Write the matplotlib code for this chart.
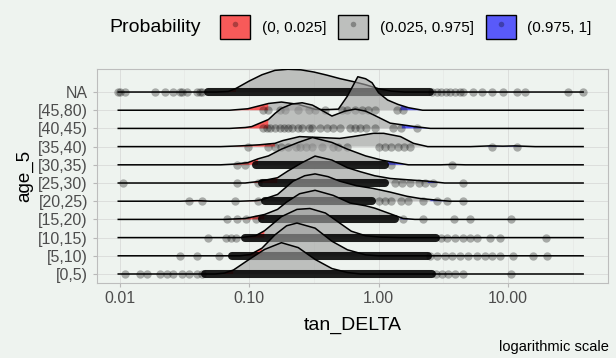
import matplotlib
matplotlib.use('Agg')
import matplotlib.pyplot as plt
import numpy as np
from matplotlib.patches import Patch
from matplotlib.lines import Line2D
from matplotlib.legend_handler import HandlerTuple
from matplotlib.ticker import FixedLocator, NullFormatter

plt.rcParams['font.family'] = ['Liberation Sans', 'DejaVu Sans']

# groups from bottom to top
groups = ['[0,5)', '[5,10)', '[10,15)', '[15,20)', '[20,25)', '[25,30)',
          '[30,35)', '[35,40)', '[40,45)', '[45,80)', 'NA']

# density ridges, x in log10(tan_DELTA), height in row units
curve_x = {
    'NA':      [-1.25, -1.16, -1.1, -1.0, -0.9, -0.8, -0.7, -0.6, -0.5, -0.4, -0.3, -0.2, -0.1, 0.0, 0.1, 0.2],
    '[45,80)': [-1.15, -1.01, -0.85, -0.75, -0.62, -0.49, -0.41, -0.31, -0.24, -0.16, -0.10, -0.05, 0.00, 0.07, 0.15, 0.23, 0.34],
    '[40,45)': [-1.15, -1.03, -0.98, -0.85, -0.80, -0.75, -0.67, -0.59, -0.51, -0.44, -0.36, -0.26, -0.18, -0.10, -0.04, 0.09, 0.18, 0.28, 0.40],
    '[35,40)': [-1.22, -1.07, -0.92, -0.80, -0.74, -0.61, -0.45, -0.30, -0.20, -0.04, 0.04, 0.17, 0.27, 0.38, 0.71, 0.86, 0.96, 1.05, 1.21],
    '[30,35)': [-1.22, -1.11, -1.01, -0.93, -0.85, -0.75, -0.62, -0.51, -0.36, -0.24, -0.10, 0.03, 0.13, 0.23, 0.48, 0.57, 0.67],
    '[25,30)': [-1.03, -0.93, -0.78, -0.70, -0.59, -0.49, -0.36, -0.24, -0.14, -0.03, 0.09, 0.22, 0.38, 0.51],
    '[20,25)': [-1.53, -1.40, -1.30, -1.07, -0.95, -0.90, -0.78, -0.66, -0.57, -0.49, -0.39, -0.30, -0.17, -0.04, 0.09, 0.22, 0.32, 0.42, 0.55],
    '[15,20)': [-1.19, -1.03, -0.88, -0.78, -0.71, -0.61, -0.49, -0.35, -0.22, -0.10, -0.03, 0.09, 0.19, 0.28],
    '[10,15)': [-1.07, -0.95, -0.88, -0.75, -0.63, -0.53, -0.41, -0.30, -0.21, -0.10, 0.01, 0.17],
    '[5,10)':  [-1.07, -0.99, -0.90, -0.80, -0.71, -0.63, -0.49, -0.36, -0.24, -0.10, 0.00],
    '[0,5)':   [-1.26, -1.19, -1.12, -1.01, -0.88, -0.75, -0.62, -0.49, -0.36, -0.24, -0.14],
}
curve_h = {
    'NA':      [0, 0.03, 0.2, 0.6, 0.95, 1.19, 1.25, 1.22, 1.1, 0.93, 0.74, 0.58, 0.4, 0.18, 0.05, 0],
    '[45,80)': [0, 0.08, 0.37, 0.45, 0.32, 0.05, 0.03, 0.06, 0.78, 1.84, 1.73, 1.51, 0.96, 0.56, 0.32, 0.14, 0],
    '[40,45)': [0, 0.05, 0.1, 0.49, 0.82, 1.1, 1.34, 1.41, 1.28, 1.0, 0.68, 0.95, 1.06, 0.95, 0.75, 0.29, 0.2, 0.1, 0],
    '[35,40)': [0, 0.04, 0.1, 0.18, 0.33, 0.55, 0.5, 0.45, 0.55, 0.73, 0.73, 0.55, 0.18, 0, 0, 0.04, 0.025, 0.04, 0],
    '[30,35)': [0, 0.04, 0.12, 0.33, 0.49, 0.86, 1.23, 1.5, 1.23, 0.86, 0.49, 0.25, 0.12, 0, 0, 0.02, 0],
    '[25,30)': [0, 0.08, 0.29, 0.66, 1.12, 1.48, 1.26, 0.84, 0.62, 0.4, 0.25, 0.18, 0.1, 0],
    '[20,25)': [0, 0.03, 0, 0, 0.03, 0.08, 0.37, 1.1, 1.4, 1.5, 1.35, 1.1, 0.85, 0.7, 0.5, 0.27, 0.15, 0.08, 0],
    '[15,20)': [0, 0.05, 0.27, 0.55, 0.95, 1.41, 1.6, 1.32, 0.9, 0.75, 0.62, 0.31, 0.05, 0],
    '[10,15)': [0, 0.1, 0.38, 1.15, 1.55, 1.6, 1.35, 0.8, 0.35, 0.1, 0.03, 0],
    '[5,10)':  [0, 0.07, 0.42, 1.15, 1.65, 1.8, 1.52, 0.8, 0.33, 0.05, 0],
    '[0,5)':   [0, 0.05, 0.22, 0.75, 1.35, 1.72, 1.45, 0.8, 0.3, 0.08, 0],
}

# 2.5 % and 97.5 % quantiles, log10(tan_DELTA)
q_low = {'NA': -1.10, '[45,80)': -0.85, '[40,45)': -0.85, '[35,40)': -0.80, '[30,35)': -0.93,
         '[25,30)': -0.78, '[20,25)': -0.92, '[15,20)': -0.88, '[10,15)': -0.88,
         '[5,10)': -0.90, '[0,5)': -1.12}
q_high = {'NA': 0.45, '[45,80)': 0.17, '[40,45)': 0.18, '[35,40)': 0.84, '[30,35)': 0.07,
          '[25,30)': 0.38, '[20,25)': 0.40, '[15,20)': 0.17, '[10,15)': 0.15,
          '[5,10)': -0.08, '[0,5)': -0.20}

# single observations, log10(tan_DELTA)
points = {
    'NA':      [-2.01, -2.00, -1.96, -1.73, -1.65, -1.59, -1.53, -1.52, -1.48, -1.40, -1.38, -1.36,
                0.41, 0.45, 0.48, 0.52, 0.55, 0.59, 0.63, 0.65, 0.73, 0.80, 0.88, 0.96, 1.07, 1.13, 1.46, 1.58],
    '[45,80)': [-0.89, -0.85, -0.76, -0.72, -0.62, -0.54, -0.49, -0.41, -0.28, -0.24, -0.18, -0.13,
                -0.08, -0.03, 0.14, 0.19],
    '[40,45)': [-0.89, -0.86, -0.84, -0.80, -0.76, -0.73, -0.70, -0.67, -0.62, -0.59, -0.54, -0.51,
                -0.45, -0.40, -0.35, -0.30, -0.22, -0.18, -0.14, -0.10, -0.03, 0.11, 0.17, 0.30],
    '[35,40)': [-1.01, -0.85, -0.80, -0.75, -0.70, -0.64, -0.61, -0.56, -0.51, -0.44, -0.35, -0.31,
                -0.24, 0.00, 0.05, 0.10, 0.15, 0.20, 0.24, 0.88, 1.07],
    '[30,35)': [-1.09, -1.03, 0.10, 0.57],
    '[25,30)': [-1.97, -1.09, -0.93, 0.13, 0.18, 0.24, 0.31, 0.36, 0.42, 0.65],
    '[20,25)': [-1.46, -1.36, -1.11, -0.93, 0.00, 0.05, 0.10, 0.17, 0.23, 0.34, 0.45, 0.53, 0.65],
    '[15,20)': [-1.17, -1.09, -1.02, -0.95, 0.19, 0.34, 0.58, 0.71, 1.02],
    '[10,15)': [-1.32, -1.18, -1.14, -1.10, 0.48, 0.53, 0.59, 0.65, 0.71, 0.76, 0.86, 0.94, 1.29],
    '[5,10)':  [-1.53, -1.40, -1.23, 0.40, 0.45, 0.51, 0.57, 0.63, 0.69, 0.76, 0.82, 0.88, 0.94,
                1.04, 1.19, 1.30],
    '[0,5)':   [-1.96, -1.84, -1.79, -1.69, -1.63, -1.59, -1.52, -1.46, -1.40, -1.36, 0.44, 0.49,
                0.54, 0.59, 0.65, 1.02],
}
# ranges where the points overplot into a solid band, log10(tan_DELTA)
dense = {'NA': (-1.32, 0.40), '[45,80)': None, '[40,45)': None, '[35,40)': None,
         '[30,35)': (-0.95, 0.05), '[25,30)': (-0.90, 0.05), '[20,25)': (-0.88, -0.05),
         '[15,20)': (-0.90, 0.13), '[10,15)': (-1.03, 0.44), '[5,10)': (-1.13, 0.38),
         '[0,5)': (-1.34, 0.41)}

leg_labels = ['(0, 0.025]', '(0.025, 0.975]', '(0.975, 1]']
fill_cols = ['#FF0000A0', '#A0A0A0A0', '#0000FFA0']

bg = '#eef3ef'
fig = plt.figure(figsize=(6.16, 3.58), dpi=100, facecolor=bg)
ax = fig.add_axes([0.1575, 0.2095, 0.8295, 0.5975], facecolor=bg)

allpts = np.concatenate([points[g] for g in groups])
xmin, xmax = allpts.min(), allpts.max()

z = 10
for i in range(len(groups) - 1, -1, -1):
    g = groups[i]
    base = i + 1
    fx = np.array([xmin] + curve_x[g] + [xmax])
    fh = np.array([0] + curve_h[g] + [0])
    for lo, hi, col in [(xmin, q_low[g], fill_cols[0]),
                        (q_low[g], q_high[g], fill_cols[1]),
                        (q_high[g], xmax, fill_cols[2])]:
        xs = np.linspace(lo, hi, 400)
        hs = np.interp(xs, fx, fh)
        ax.fill_between(10 ** xs, base, base + hs, facecolor=col, linewidth=0, zorder=z)
    ax.plot(10 ** fx, base + fh, color='black', lw=1.1, zorder=z + 1)
    if dense[g] is not None:
        lo, hi = dense[g]
        ax.plot([10 ** lo, 10 ** hi], [base, base], color='black', alpha=0.88, lw=5.8,
                solid_capstyle='round', zorder=z + 2)
    p = np.array(points[g])
    ax.plot(10 ** p, np.full(len(p), base), 'o', color='black', alpha=0.3, ms=6,
            mew=0, zorder=z + 3)
    z += 5

ax.set_xscale('log')
ax.set_xlim(10 ** -2.174, 10 ** 1.772)
ax.set_ylim(0.505, 12.26)
ax.xaxis.set_major_locator(FixedLocator([0.01, 0.1, 1, 10]))
ax.set_xticklabels(['0.01', '0.10', '1.00', '10.00'])
ax.xaxis.set_minor_locator(FixedLocator(10 ** np.array([-1.5, -0.5, 0.5, 1.5])))
ax.xaxis.set_minor_formatter(NullFormatter())
ax.set_yticks(range(1, len(groups) + 1))
ax.set_yticklabels(groups)
ax.set_axisbelow(True)
ax.grid(True, which='major', color='#dcdedc', lw=0.7)
ax.grid(True, which='minor', axis='x', color='#e4e6e4', lw=0.4)
ax.tick_params(which='major', length=3, color='#b8b8b8', labelcolor='#4d4d4d', labelsize=11.5, pad=2.5)
ax.tick_params(axis='y', pad=3.5)
ax.tick_params(which='minor', length=0)
for s in ax.spines.values():
    s.set_color('#bdbdbd')
    s.set_linewidth(0.8)

fig.text(352.5 / 616, 1 - 325 / 358, 'tan_DELTA', ha='center', va='center', fontsize=14)
fig.text(25 / 616, 1 - 176 / 358, 'age_5', ha='center', va='center', fontsize=13.5, rotation=90)
fig.text(609 / 616, 1 - 347 / 358, 'logarithmic scale', ha='right', va='center', fontsize=10.5)

handles = [(Patch(facecolor=c, edgecolor='black', lw=1.0),
            Line2D([], [], marker='o', ls='', color='black', alpha=0.3, ms=4, mew=0))
           for c in fill_cols]
fig.text(109 / 616, 1 - 27 / 358, 'Probability', ha='left', va='center', fontsize=14)
fig.legend(handles, leg_labels, handler_map={tuple: HandlerTuple(ndivide=1)},
           loc='center', bbox_to_anchor=(406 / 616, 1 - 27 / 358), ncol=3, frameon=False,
           fontsize=11, handlelength=1.95, handleheight=1.95, handletextpad=0.75,
           columnspacing=0.8, borderpad=0.2)

fig.savefig('out.png', dpi=100, facecolor=bg)
